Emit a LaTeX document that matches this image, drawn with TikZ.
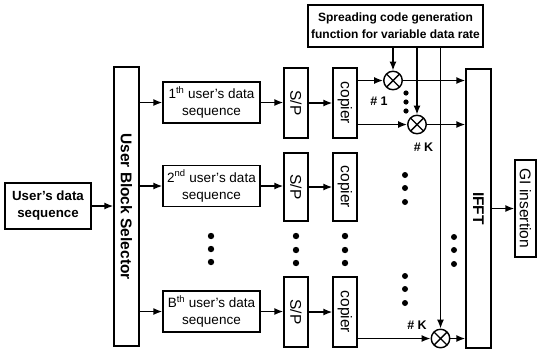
\documentclass[tikz,border=0pt]{standalone}
\usepackage{fontspec}
\setmainfont{Liberation Sans}
\usetikzlibrary{arrows.meta}

\begin{document}
\begin{tikzpicture}[x=1pt, y=-1pt, line width=1.4pt,
  blk/.style={draw, inner sep=0pt, align=center},
  txt/.style={font=\fontsize{13.5}{17}\selectfont},
  btxt/.style={font=\bfseries\fontsize{13.3}{17}\selectfont},
  vtxt/.style={font=\fontsize{15.5}{18}\selectfont},
  vbtxt/.style={font=\bfseries\fontsize{15.5}{18}\selectfont},
  tag/.style={font=\bfseries\fontsize{12.5}{14}\selectfont, inner sep=0pt},
  arr/.style={-{Latex[length=9pt,width=7pt]}},
  mult/.style={circle, draw, minimum size=18.5pt, inner sep=0pt,
    path picture={\draw (path picture bounding box.north west) -- (path picture bounding box.south east)
                        (path picture bounding box.north east) -- (path picture bounding box.south west);}}]

\useasboundingbox (0,0) rectangle (537,349);

% input and block selector
\node[blk, btxt, minimum width=86pt, minimum height=46pt] (inSeq) at ( 48.0,206.0) {User's data\\sequence};
\node[blk, vbtxt, minimum width=25pt, minimum height=279pt] (sel) at (126.5,206.5) {\rotatebox{-90}{User Block Selector}};

% user data sequences
\node[blk, txt, minimum width=97pt, minimum height=41pt] (u1) at (211.5,102.5) {1\textsuperscript{th} user's data\\sequence};
\node[blk, txt, minimum width=97pt, minimum height=41pt] (u2) at (211.5,186.0) {2\textsuperscript{nd} user's data\\sequence};
\node[blk, txt, minimum width=97pt, minimum height=41pt] (u3) at (211.5,311.5) {B\textsuperscript{th} user's data\\sequence};

% S/P and copier
\node[blk, vtxt, minimum width=24pt, minimum height=70pt] (sp1) at (296.0,103.0) {\rotatebox{-90}{S/P}};
\node[blk, vtxt, minimum width=24pt, minimum height=68pt] (sp2) at (296.0,187.0) {\rotatebox{-90}{S/P}};
\node[blk, vtxt, minimum width=24pt, minimum height=70pt] (sp3) at (296.0,312.0) {\rotatebox{-90}{S/P}};
\node[blk, vtxt, minimum width=24pt, minimum height=70pt] (cp1) at (345.0,103.0) {\rotatebox{-90}{copier}};
\node[blk, vtxt, minimum width=24pt, minimum height=68pt] (cp2) at (345.0,187.0) {\rotatebox{-90}{copier}};
\node[blk, vtxt, minimum width=24pt, minimum height=70pt] (cp3) at (345.0,312.0) {\rotatebox{-90}{copier}};

% spreading code generator and multipliers
\node[blk, font=\bfseries\fontsize{12}{17}\selectfont, minimum width=175pt, minimum height=42pt] (gen) at (395.5,26.0)
  {Spreading code generation\\function for variable data rate};
\node[mult] (m1) at (393.0, 80.5) {};
\node[mult] (mK) at (417.0,124.5) {};
\node[mult] (mB) at (440.5,338.5) {};
\node[tag] (t1) at (379.0,101.0) {\# 1};
\node[tag] (tK) at (423.5,147.0) {\# K};
\node[tag] (tB) at (417.0,325.0) {\# K};

% IFFT and GI insertion
\node[blk, vbtxt, minimum width=25pt, minimum height=279pt] (ifft) at (478.5,208.5) {\rotatebox{-90}{IFFT}};
\node[blk, vtxt, minimum width=21pt, minimum height=97pt] (gi) at (525.5,208.5) {\rotatebox{-90}{GI insertion}};

% connectors
\draw[arr] (inSeq.east) -- (inSeq -| sel.west);
\draw[arr] (sel.east |- u1) -- (u1.west);
\draw[arr] (sel.east |- u2) -- (u2.west);
\draw[arr] (sel.east |- u3) -- (u3.west);
\draw[arr] (u1.east) -- (u1 -| sp1.west);
\draw[arr] (u2.east) -- (u2 -| sp2.west);
\draw[arr] (u3.east) -- (u3 -| sp3.west);
\draw[arr] (sp1.east) -- (cp1.west);
\draw[arr] (sp2.east) -- (cp2.west);
\draw[arr] (sp3.east) -- (cp3.west);
\draw[arr] (cp1.east |- m1) -- (m1.west);
\draw[arr] (cp1.east |- mK) -- (mK.west);
\draw[arr] (cp3.east |- mB) -- (mB.west);
\draw[arr] (gen.south -| m1) -- (m1.north);
\draw[arr] (gen.south -| mK) -- (mK.north);
\draw[arr] (gen.south -| mB) -- (mB.north);
\draw[arr] (m1.east) -- (m1 -| ifft.west);
\draw[arr] (mK.east) -- (mK -| ifft.west);
\draw[arr] (mB.east) -- (mB -| ifft.west);
\draw[arr] (ifft.east |- gi) -- (gi.west);

% dots
\fill (211,236) circle (3.2pt) (211,249) circle (3.2pt) (211,262) circle (3.2pt);
\fill (296,236) circle (3.2pt) (296,250) circle (3.2pt) (296,263) circle (3.2pt);
\fill (345,236) circle (3.2pt) (345,250) circle (3.2pt) (345,263) circle (3.2pt);
\fill (406, 93) circle (2.6pt) (406,102) circle (2.6pt) (406,111) circle (2.6pt);
\fill (405,175) circle (3.0pt) (405,188) circle (3.0pt) (405,202) circle (3.0pt);
\fill (405,276) circle (3.0pt) (405,289) circle (3.0pt) (405,303) circle (3.0pt);
\fill (454,237) circle (3.0pt) (454,250) circle (3.0pt) (454,264) circle (3.0pt);

\end{tikzpicture}
\end{document}
